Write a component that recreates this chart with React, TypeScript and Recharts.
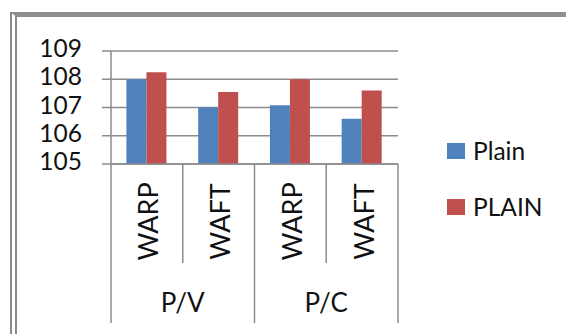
import React from "react";
import { BarChart, Bar, XAxis, YAxis, CartesianGrid, Legend } from "recharts";

// Chart data
const groups = ["P/V", "P/V", "P/C", "P/C"];
const directions = ["WARP", "WAFT", "WARP", "WAFT"];
const seriesNames = ["Plain", "PLAIN"];
const plainValues = [108.0, 107.0, 107.08, 106.6];
const plainUpperValues = [108.25, 107.55, 108.0, 107.6];
const yTicks = [105, 106, 107, 108, 109];

const data = directions.map((d, i) => ({
  dir: d,
  group: groups[i],
  Plain: plainValues[i],
  PLAIN: plainUpperValues[i],
}));

// Layout
const W = 566;
const H = 334;
const Y_AXIS_W = 111;
const RIGHT = 168;
const LEGEND_W = 120;
const TOP = 51;
const X_AXIS_H = 170;
const PLOT_W = W - Y_AXIS_W - RIGHT;
const BAND = PLOT_W / data.length;
const AXIS_Y = H - X_AXIS_H;
const LINE = "#8c8c8c";
const FONT = "Lato, 'Open Sans', sans-serif";
const BLUE = "#4f81bd";
const RED = "#c0504d";

const YTick = (props: any) => {
  const { y, payload } = props;
  return (
    <text x={82} y={y + 6} textAnchor="end" fontFamily={FONT} fontSize={24.5} fill="#111">
      {payload.value}
    </text>
  );
};

const CategoryTick = (props: any) => {
  const { x, index, payload } = props;
  const half = BAND / 2;
  const left = x - half;
  const right = x + half;
  const groupStart = index % 2 === 0;
  const isLast = index === data.length - 1;
  const cy = 221.5;
  const bx = x + 11.5;
  return (
    <g>
      <line x1={left} y1={AXIS_Y} x2={left} y2={groupStart ? 323 : 263} stroke={LINE} strokeWidth={1.5} />
      {isLast && <line x1={right} y1={AXIS_Y} x2={right} y2={323} stroke={LINE} strokeWidth={1.5} />}
      <text
        transform={`translate(${bx},${cy}) rotate(-90)`}
        textAnchor="middle"
        fontFamily={FONT}
        fontSize={27}
        fill="#111"
      >
        {payload.value}
      </text>
      {!groupStart && (
        <text x={left} y={311.5} textAnchor="middle" fontFamily={FONT} fontSize={26} fill="#111">
          {data[index].group}
        </text>
      )}
    </g>
  );
};

const LegendContent = (props: any) => {
  const payload = [...(props.payload || [])].sort(
    (a: any, b: any) => seriesNames.indexOf(a.value) - seriesNames.indexOf(b.value)
  );
  return (
    <svg width={LEGEND_W} height={100} style={{ display: "block" }}>
      {payload.map((p: any, i: number) => (
        <g key={p.value}>
          <rect x={7} y={13 + i * 56} width={18} height={16} fill={p.color} />
          <text x={33} y={29.5 + i * 56} fontFamily={FONT} fontSize={24.5} fill="#111">
            {p.value}
          </text>
        </g>
      ))}
    </svg>
  );
};

export default function App() {
  return (
    <div
      style={{
        position: "absolute",
        left: 0,
        top: 0,
        width: W,
        height: H,
        overflow: "hidden",
        background: "#fff",
      }}
    >
      <div
        style={{
          position: "absolute",
          left: 10,
          top: 12,
          right: -20,
          bottom: -20,
          borderTop: "5px solid #8f8f8f",
          borderLeft: "7px double #8a8a8a",
        }}
      />
      <div style={{ position: "absolute", left: 0, top: 0 }}>
        <BarChart
          width={W}
          height={H}
          data={data}
          margin={{ top: TOP, right: RIGHT - LEGEND_W, bottom: 0, left: 0 }}
          barCategoryGap="21.5%"
          barGap={0}
        >
          <CartesianGrid vertical={false} stroke={LINE} strokeWidth={1.5} />
          <XAxis
            dataKey="dir"
            height={X_AXIS_H}
            interval={0}
            tickLine={false}
            axisLine={{ stroke: LINE, strokeWidth: 1.5 }}
            tick={<CategoryTick />}
          />
          <YAxis
            width={Y_AXIS_W}
            domain={[105, 109]}
            ticks={yTicks}
            interval={0}
            tickSize={9}
            tickLine={{ stroke: LINE, strokeWidth: 1.5 }}
            axisLine={{ stroke: LINE, strokeWidth: 1.5 }}
            tick={<YTick />}
          />
          <Legend
            layout="vertical"
            align="right"
            verticalAlign="middle"
            content={<LegendContent />}
            wrapperStyle={{ position: "absolute", left: 440, top: 130, width: LEGEND_W, height: 100 }}
          />
          <Bar dataKey="Plain" name="Plain" fill={BLUE} isAnimationActive={false} />
          <Bar dataKey="PLAIN" name="PLAIN" fill={RED} isAnimationActive={false} />
        </BarChart>
      </div>
    </div>
  );
}
